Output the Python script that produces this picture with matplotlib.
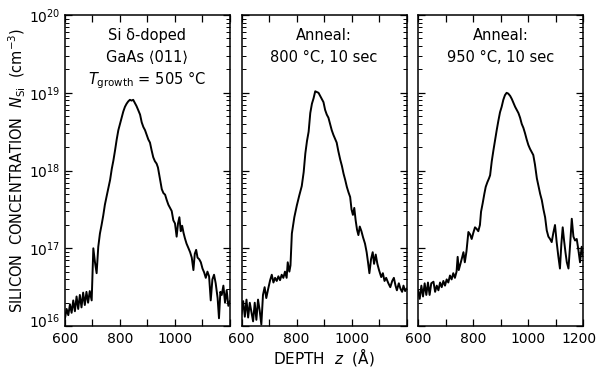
import matplotlib
matplotlib.use("Agg")
import matplotlib.pyplot as plt
import matplotlib.transforms as mtransforms
import numpy as np
from matplotlib.ticker import LogLocator, LogFormatterSciNotation, FixedLocator

plt.rcParams['font.family'] = ['DejaVu Sans']
plt.rcParams['mathtext.fontset'] = 'dejavusans'
plt.rcParams['mathtext.default'] = 'regular'

# depth (Angstrom) and log10 of Si concentration (cm^-3)
depth_asgrown = [600, 606, 612, 618, 624, 630, 636, 642, 648, 654, 660, 666, 672, 678, 684, 690, 697,
                 703, 709, 715, 721, 727, 733, 739, 745, 752, 758, 764, 770, 776, 782, 788, 794, 800,
                 806, 812, 818, 824, 830, 836, 842, 848, 854, 860, 866, 873, 879, 885, 891, 897, 903,
                 909, 915, 921, 927, 933, 938, 945, 952, 958, 964, 970, 976, 982, 988, 994, 1000, 1006,
                 1011, 1016, 1021, 1026, 1031, 1036, 1042, 1048, 1055, 1061, 1067, 1072, 1077, 1082,
                 1088, 1094, 1100, 1106, 1112, 1118, 1124, 1130, 1136, 1142, 1148, 1155, 1160, 1165,
                 1170, 1176, 1182, 1188, 1194, 1200]
logn_asgrown = [16.10, 16.22, 16.14, 16.28, 16.17, 16.33, 16.19, 16.38, 16.22, 16.40, 16.24, 16.43, 16.27,
                16.44, 16.30, 16.45, 16.33, 17.00, 16.82, 16.68, 17.02, 17.19, 17.30, 17.42, 17.56, 17.68,
                17.78, 17.88, 18.02, 18.13, 18.26, 18.40, 18.52, 18.60, 18.68, 18.76, 18.82, 18.86, 18.89,
                18.91, 18.90, 18.91, 18.87, 18.83, 18.78, 18.72, 18.62, 18.56, 18.52, 18.46, 18.40, 18.36,
                18.26, 18.17, 18.12, 18.09, 18.04, 17.90, 17.76, 17.71, 17.69, 17.62, 17.56, 17.52, 17.48,
                17.36, 17.32, 17.15, 17.32, 17.40, 17.22, 17.29, 17.20, 17.13, 17.06, 17.01, 16.95, 16.88,
                16.72, 16.93, 16.98, 16.88, 16.86, 16.82, 16.74, 16.69, 16.62, 16.70, 16.64, 16.33, 16.60,
                16.66, 16.55, 16.36, 16.10, 16.44, 16.40, 16.52, 16.30, 16.46, 16.26, 16.32]

depth_800 = [600, 606, 612, 618, 624, 630, 636, 642, 648, 654, 660, 666, 672, 678, 684, 690, 697, 704,
             710, 716, 722, 728, 734, 740, 746, 752, 758, 764, 768, 774, 778, 783, 792, 801, 810, 819,
             826, 832, 838, 844, 850, 856, 862, 868, 874, 880, 886, 892, 898, 904, 910, 916, 922, 928,
             934, 940, 946, 952, 959, 965, 971, 977, 983, 989, 995, 1000, 1005, 1010, 1015, 1020, 1025,
             1030, 1036, 1042, 1049, 1055, 1060, 1065, 1071, 1077, 1082, 1088, 1094, 1100, 1108, 1114,
             1120, 1126, 1134, 1141, 1148, 1154, 1160, 1165, 1172, 1178, 1184, 1189, 1195, 1200]
logn_800 = [16.16, 16.32, 16.12, 16.34, 16.11, 16.30, 16.18, 16.06, 16.30, 16.08, 16.34, 16.20, 16.02,
            16.40, 16.50, 16.36, 16.48, 16.59, 16.66, 16.56, 16.62, 16.58, 16.64, 16.59, 16.66, 16.62,
            16.70, 16.62, 16.82, 16.70, 16.78, 17.19, 17.40, 17.55, 17.68, 17.80, 17.98, 18.22, 18.38,
            18.50, 18.74, 18.86, 18.93, 19.02, 19.01, 19.00, 18.96, 18.92, 18.88, 18.78, 18.72, 18.68,
            18.60, 18.52, 18.46, 18.41, 18.36, 18.25, 18.14, 18.06, 17.96, 17.88, 17.79, 17.72, 17.66,
            17.50, 17.43, 17.52, 17.36, 17.24, 17.17, 17.28, 17.22, 17.14, 17.06, 16.95, 16.82, 16.68,
            16.86, 16.95, 16.80, 16.92, 16.80, 16.72, 16.63, 16.68, 16.58, 16.62, 16.55, 16.50, 16.58,
            16.62, 16.52, 16.46, 16.55, 16.48, 16.44, 16.52, 16.45, 16.48]

depth_950 = [600, 606, 612, 618, 624, 630, 636, 642, 648, 656, 662, 668, 674, 680, 686, 692, 698, 704,
             710, 716, 722, 728, 734, 740, 744, 748, 754, 760, 765, 770, 776, 783, 789, 795, 801, 807,
             813, 819, 825, 829, 835, 841, 846, 852, 858, 862, 868, 874, 880, 886, 892, 898, 904, 910,
             916, 922, 928, 935, 941, 947, 953, 959, 965, 971, 977, 983, 989, 995, 1001, 1007, 1013,
             1019, 1025, 1032, 1038, 1044, 1050, 1056, 1062, 1068, 1074, 1080, 1086, 1092, 1098, 1104,
             1110, 1116, 1121, 1126, 1131, 1136, 1141, 1147, 1153, 1159, 1165, 1171, 1177, 1183, 1189,
             1195, 1200]
logn_950 = [16.46, 16.35, 16.52, 16.38, 16.55, 16.40, 16.56, 16.40, 16.55, 16.57, 16.44, 16.52, 16.46,
            16.56, 16.50, 16.58, 16.52, 16.60, 16.56, 16.65, 16.60, 16.68, 16.62, 16.70, 16.89, 16.72,
            16.80, 16.88, 16.95, 16.82, 16.96, 17.21, 17.18, 17.12, 17.20, 17.27, 17.25, 17.22, 17.30,
            17.47, 17.58, 17.70, 17.79, 17.85, 17.90, 17.94, 18.12, 18.26, 18.39, 18.52, 18.64, 18.75,
            18.82, 18.91, 18.97, 19.00, 18.99, 18.96, 18.92, 18.87, 18.82, 18.78, 18.74, 18.68, 18.60,
            18.55, 18.48, 18.40, 18.33, 18.28, 18.24, 18.20, 18.08, 17.90, 17.80, 17.70, 17.62, 17.50,
            17.40, 17.23, 17.15, 17.12, 17.08, 17.20, 17.30, 17.08, 16.90, 16.74, 17.05, 17.27, 17.10,
            16.95, 16.82, 16.74, 17.05, 17.38, 17.15, 17.10, 17.12, 16.98, 16.82, 17.02, 16.90]

panel_notes = [
    ["Si \u03b4-doped", "GaAs \u27e8011\u27e9", "$\\mathit{T}_{\\mathrm{growth}}$ = 505 \u00b0C"],
    ["Anneal:", "800 \u00b0C, 10 sec"],
    ["Anneal:", "950 \u00b0C, 10 sec"],
]
xtick_labels = [["600", "", "800", "", "1000", "", ""],
                ["600", "", "800", "", "1000", "", ""],
                ["600", "", "800", "", "1000", "", "1200"]]
xticks = [600, 700, 800, 900, 1000, 1100, 1200]

fig, axes = plt.subplots(1, 3, figsize=(5.98, 3.68), dpi=100, sharey=True)
fig.subplots_adjust(left=0.1087, right=0.975, bottom=0.114, top=0.959, wspace=0.07)

series = [(depth_asgrown, logn_asgrown), (depth_800, logn_800), (depth_950, logn_950)]
for i, ax in enumerate(axes):
    z, logn = series[i]
    ax.plot(z, 10.0 ** np.array(logn), color='black', linewidth=1.4)
    ax.set_yscale('log')
    ax.set_ylim(1e16, 1e20)
    ax.set_xlim(600, 1200)
    ax.xaxis.set_major_locator(FixedLocator(xticks))
    ax.set_xticklabels(xtick_labels[i])
    ax.yaxis.set_major_locator(FixedLocator([1e16, 1e17, 1e18, 1e19, 1e20]))
    ax.yaxis.set_minor_locator(LogLocator(base=10, subs=np.arange(2, 10), numticks=20))
    ax.yaxis.set_major_formatter(LogFormatterSciNotation())
    ax.tick_params(which='both', direction='in', top=True, right=True, labelsize=10)
    ax.tick_params(which='major', length=5, width=0.9)
    ax.tick_params(which='minor', length=3, width=0.7)
    ax.tick_params(axis='x', pad=4)
    ax.tick_params(axis='y', pad=3)
    for s in ax.spines.values():
        s.set_linewidth(1.1)
    notes = panel_notes[i]
    for k, line in enumerate(notes):
        ax.text(0.5, 0.935 - k * 0.072, line, transform=ax.transAxes,
                ha='center', va='center', fontsize=10.5)

axes[0].tick_params(axis='y', which='both', labelleft=True)
axes[0].set_ylabel("SILICON  CONCENTRATION  $\\mathit{N}_{\\mathrm{Si}}$  (cm$^{-3}$)",
                   fontsize=10.5, labelpad=1)
axes[1].set_xlabel("DEPTH  $\\mathit{z}$  (\u00c5)", fontsize=11, labelpad=0)

fig.canvas.draw()
# nudge the last "1200" label inside the figure and lift the "10^16" label a little
last = axes[2].xaxis.get_major_ticks()[-1].label1
last.set_transform(last.get_transform() + mtransforms.ScaledTranslation(-3 / 72, 0, fig.dpi_scale_trans))
low = axes[0].yaxis.get_major_ticks()[0].label1
low.set_transform(low.get_transform() + mtransforms.ScaledTranslation(0, 4 / 72, fig.dpi_scale_trans))

fig.savefig("out.png", dpi=100)
